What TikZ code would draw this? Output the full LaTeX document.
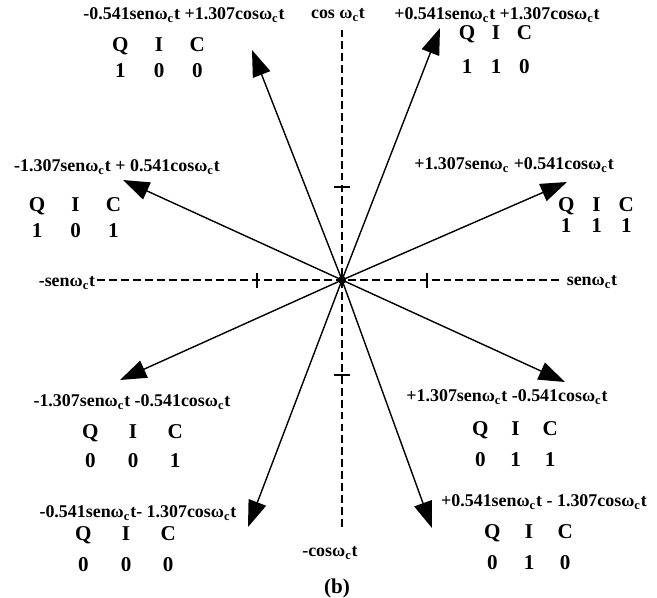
\documentclass[tikz,border=0pt]{standalone}
\usepackage{fontspec}
\setmainfont{Liberation Serif}
\usetikzlibrary{arrows.meta}
\newcommand{\omc}{ω\textsubscript{c}}
\newcommand{\qictab}[3]{{\setlength{\tabcolsep}{#1}\renewcommand{\arraystretch}{#2}\begin{tabular}{ccc}Q&I&C\\#3\end{tabular}}}
\begin{document}
\begin{tikzpicture}[x=1cm,y=1cm,line width=.8pt,
  vec/.style={-{Triangle[length=15pt,width=10.5pt]}},
  axis/.style={dash pattern=on 4.5pt off 2.3pt,line width=.7pt},
  formula/.style={font=\bfseries\fontsize{10.2}{12}\selectfont,inner sep=0pt},
  bits/.style={font=\bfseries\fontsize{12}{14.4}\selectfont,inner sep=0pt}]
  \useasboundingbox (-6.84,-6.34) rectangle (6.30,5.60);
  \coordinate (o) at (0,0);
  % axes
  \coordinate (xl) at (-4.90,0);
  \coordinate (xr) at (4.42,0);
  \coordinate (yt) at (0,5.00);
  \coordinate (yb) at (0,-4.94);
  \draw[axis] (xl)--(xr);
  \draw[axis] (yb)--(yt);
  \foreach \t in {-1.70,1.70} \draw (\t,-.15)--(\t,.15);
  \foreach \t in {1.86,-1.90} \draw (-.16,\t)--(.16,\t);
  \node[formula] (ax1) at (5.00,-0.04) {sen\omc t};
  \node[formula] (ax2) at (-5.50,-0.06) {-sen\omc t};
  \node[formula] (ax3) at (-0.08,5.30) {cos \omc t};
  \node[formula] (ax4) at (-0.24,-5.46) {-cos\omc t};
  \node[bits] (cap) at (-0.10,-6.16) {(b)};
  % vector tips
  \coordinate (p100) at (-1.80,4.60);
  \coordinate (p110) at (1.96,5.04);
  \coordinate (p111) at (4.50,1.96);
  \coordinate (p101) at (-4.38,2.00);
  \coordinate (p001) at (-4.44,-2.00);
  \coordinate (p011) at (4.46,-2.04);
  \coordinate (p000) at (-1.88,-4.94);
  \coordinate (p010) at (1.80,-4.96);
  \foreach \v in {100,110,111,101,001,011,000,010}
    \draw[vec] (o)--(p\v);
  \fill (o) circle (.08);
  % labels
  \node[formula] (f100) at (-3.16,5.30) {-0.541sen\omc t +1.307cos\omc t};
  \node[formula] (f110) at (3.10,5.30) {+0.541sen\omc t +1.307cos\omc t};
  \node[formula] (f101) at (-4.50,2.26) {-1.307sen\omc t + 0.541cos\omc t};
  \node[formula] (f111) at (3.44,2.30) {+1.307sen\omc{} +0.541cos\omc t};
  \node[formula] (f001) at (-4.20,-2.44) {-1.307sen\omc t -0.541cos\omc t};
  \node[formula] (f011) at (3.30,-2.34) {+1.307sen\omc t -0.541cos\omc t};
  \node[formula] (f000) at (-4.08,-4.66) {-0.541sen\omc t- 1.307cos\omc t};
  \node[formula] (f010) at (4.04,-4.44) {+0.541sen\omc t - 1.307cos\omc t};
  \node[bits] (b100) at (-3.67,4.41) {\qictab{7.2pt}{0.99}{1&0&0}};
  \node[bits] (b110) at (3.07,4.60) {\qictab{4.4pt}{1.34}{1&1&0}};
  \node[bits] (b101) at (-5.34,1.21) {\qictab{7.1pt}{0.99}{1&0&1}};
  \node[bits] (b111) at (5.08,1.25) {\qictab{4.8pt}{0.83}{1&1&1}};
  \node[bits] (b001) at (-4.19,-3.35) {\qictab{8.3pt}{1.15}{0&0&1}};
  \node[bits] (b011) at (3.46,-3.30) {\qictab{6.2pt}{1.19}{0&1&1}};
  \node[bits] (b000) at (-4.33,-5.40) {\qictab{8.3pt}{1.19}{0&0&0}};
  \node[bits] (b010) at (3.73,-5.36) {\qictab{6.6pt}{1.19}{0&1&0}};
\end{tikzpicture}
\end{document}
